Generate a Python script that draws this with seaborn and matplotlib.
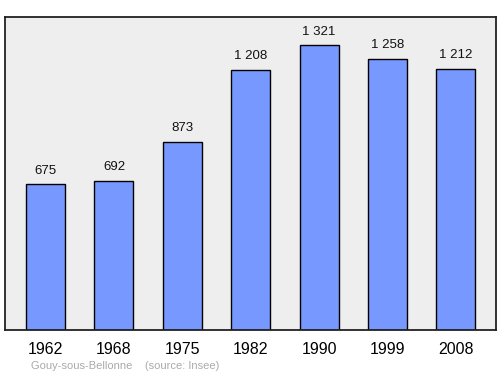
import matplotlib
matplotlib.use("Agg")
import matplotlib.pyplot as plt
import seaborn as sns
import pandas as pd

years = ["1962", "1968", "1975", "1982", "1990", "1999", "2008"]
population = [675, 692, 873, 1208, 1321, 1258, 1212]
value_labels = ["675", "692", "873", "1 208", "1 321", "1 258", "1 212"]

sns.set_style("white")
plt.rcParams['font.family'] = ['Liberation Sans', 'DejaVu Sans']

df = pd.DataFrame({"year": years, "pop": population})

fig = plt.figure(figsize=(5, 3.74), dpi=100)
ax = fig.add_axes([0.01, 0.1176, 0.982, 0.837])
ax.set_facecolor("#eeeeee")

sns.barplot(data=df, x="year", y="pop", color="#7799ff", saturation=1,
            width=0.57, edgecolor="black", linewidth=1, ax=ax)

for i, (v, lab) in enumerate(zip(population, value_labels)):
    ax.annotate(lab, (i, v), xytext=(0, 5.5), textcoords="offset points",
                ha="center", va="bottom", fontsize=9.5, color="#111111")

ax.set_xlim(-0.593, 6.586)
ax.set_ylim(0, 1452)
ax.set_yticks([])
ax.set_xlabel("")
ax.set_ylabel("")
ax.tick_params(axis="x", length=0, labelsize=11.5, pad=8.5, colors="black")
for s in ax.spines.values():
    s.set_visible(True)
    s.set_color("#222222")
    s.set_linewidth(1.3)

fig.text(0.062, 0.008, "Gouy-sous-Bellonne    (source: Insee)", fontsize=8,
         color="#aaaaaa", ha="left", va="bottom")

fig.savefig("out.png", dpi=100)
